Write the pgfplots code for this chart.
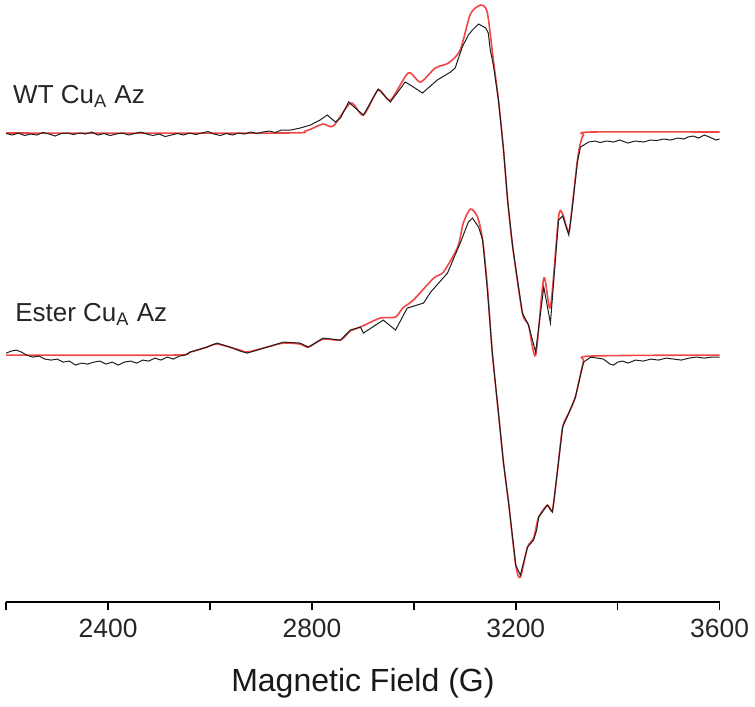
\documentclass[border=0pt]{standalone}
\usepackage{pgfplots}
\pgfplotsset{compat=1.18}
\usepackage{fontspec}
\setmainfont{Liberation Sans}
\definecolor{simred}{RGB}{240,70,70}
\definecolor{expblack}{RGB}{30,30,30}
\begin{document}
\begin{tikzpicture}
\begin{axis}[
  scale only axis,
  width=356.6pt, height=301pt,
  xmin=2200, xmax=3600, ymin=0, ymax=602,
  clip=false,
  axis x line*=bottom,
  axis y line=none,
  axis line style={line width=1pt, black},
  xtick={2200,2400,...,3600},
  xticklabels={,2400,,2800,,3200,,3600},
  tick align=outside,
  major tick length=4pt,
  tick style={line width=0.8pt, black},
  /pgf/number format/assume math mode=true,
  ticklabel style={font=\fontsize{13.2pt}{15pt}\selectfont, text=black!85, yshift=-1pt},
  xlabel={Magnetic Field (G)},
  xlabel style={font=\fontsize{16pt}{19pt}\selectfont, text=black!90, yshift=-8.5pt},
]
\coordinate (sw) at (rel axis cs:0,0);
\coordinate (ne) at (rel axis cs:1,1);
% WT simulation
\addplot[simred, line width=0.8pt, smooth, tension=0.45] coordinates {
(2200,469) (2738,469) (2787,471) (2821,478) (2842,476) (2876,499) (2901,487)
(2930,512) (2954,502) (2989,529) (3013,520) (3042,534) (3068,539) (3091,552)
(3111,588) (3131,597) (3141,594) (3146,584) (3156,542) (3166,502) (3176,452)
(3184,402) (3194,355) (3213,289) (3225,277) (3239,247) (3255,324) (3268,295)
(3284,385) (3292,388) (3304,370) (3311,397) (3321,442) (3327,459) (3333,467)
(3347,470) (3600,470)
};
% WT experimental
\addplot[expblack, line width=0.5pt] coordinates {
(2200,468.5) (2212,467) (2224,469) (2236,466.5) (2248,468) (2260,467) (2272,469.5)
(2284,468) (2296,466) (2308,468.5) (2320,469) (2332,467.5) (2344,469) (2356,468)
(2368,470) (2380,467) (2392,468.5) (2404,466.5) (2416,468) (2428,469) (2440,467)
(2452,468.5) (2464,470) (2476,468) (2488,466.5) (2500,468) (2512,465.5) (2524,467)
(2536,468.5) (2548,467) (2560,469) (2572,467.5) (2584,469) (2596,470.5) (2608,468)
(2620,466.5) (2632,468.5) (2644,467) (2656,469) (2668,468) (2680,470) (2692,468.5)
(2704,470) (2716,471) (2728,469.5) (2740,472)
(2758,472) (2777,474) (2797,477) (2816,482) (2830,487) (2846,480) (2856,484)
(2872,500) (2885,494) (2901,487) (2930,513) (2954,500) (2983,520) (2993,517)
(3017,509) (3046,522) (3072,530) (3081,534) (3095,555) (3107,567) (3115,572)
(3127,578) (3141,574) (3146,569) (3150,552) (3156,537) (3166,502) (3176,452)
(3184,402) (3194,355) (3213,289) (3225,277) (3239,250) (3255,315) (3268,279)
(3284,382) (3292,386) (3304,367) (3311,394) (3321,440) (3327,455) (3343,460)
(3355,461) (3366,459.5) (3378,461) (3392,460) (3404,462) (3420,459) (3434,461)
(3451,460) (3464,462) (3477,461.5) (3490,463) (3504,462) (3518,464) (3530,463)
(3538,465) (3548,466) (3559,464) (3570,467) (3580,465) (3593,462) (3600,463)
};
% Ester simulation
\addplot[simred, line width=0.8pt, smooth, tension=0.45] coordinates {
(2200,247) (2526,247) (2561,250) (2594,255) (2614,258) (2659,252) (2673,250)
(2712,255) (2744,259) (2777,258) (2793,255) (2822,263) (2856,262) (2875,271)
(2895,275) (2934,284) (2964,285) (2978,294) (2999,302) (3039,324) (3058,330)
(3086,355) (3097,379) (3111,393) (3125,385) (3135,362) (3144,317) (3154,249)
(3166,189) (3176,139) (3186,99) (3200,37) (3209,25) (3223,55) (3235,64)
(3245,85) (3262,97) (3272,92) (3282,132) (3292,175) (3304,189) (3317,205)
(3333,240) (3347,246) (3600,247)
};
% Ester experimental
\addplot[expblack, line width=0.5pt] coordinates {
(2200,249) (2210,251) (2220,252) (2230,250) (2240,247) (2252,245) (2264,246)
(2276,243) (2288,242) (2300,243) (2312,240) (2324,241) (2336,237) (2348,239)
(2360,238) (2372,240) (2384,241) (2396,238) (2408,240) (2420,237) (2432,240)
(2444,241) (2456,239) (2468,242) (2480,241) (2492,244) (2504,242) (2516,245)
(2528,243) (2540,246) (2552,247) (2561,250)
(2594,255) (2614,259) (2639,255) (2659,251) (2673,249) (2712,255) (2744,260)
(2777,259) (2793,255) (2822,264) (2856,262) (2875,272) (2895,275) (2901,269)
(2940,282) (2964,272) (2987,294) (3019,299) (3033,310) (3066,329) (3091,359)
(3107,380) (3115,384) (3127,375) (3135,362) (3144,314) (3154,249) (3166,189)
(3176,139) (3186,99) (3200,37) (3209,27) (3223,55) (3235,62) (3241,72)
(3245,85) (3262,97) (3272,90) (3282,132) (3292,175) (3304,189) (3317,205)
(3333,240) (3347,245) (3360,244) (3372,243) (3385,238) (3392,237) (3400,240)
(3410,241) (3420,239) (3435,242) (3450,241) (3465,243) (3480,242) (3495,244)
(3510,243) (3525,242) (3540,244) (3555,245) (3570,244) (3585,245) (3600,245)
};
\node[anchor=base west, font=\fontsize{13pt}{15pt}\selectfont, text=black!85, inner sep=0pt]
  at (axis cs:2213,499) {WT Cu\textsubscript{A} Az};
\node[anchor=base west, font=\fontsize{13pt}{15pt}\selectfont, text=black!85, inner sep=0pt]
  at (axis cs:2217,281) {Ester Cu\textsubscript{A} Az};
\end{axis}
\path (sw) ++(-3.1pt,-52pt) coordinate (bl);
\path (ne) ++(17.7pt,0pt) coordinate (tr);
\pgfresetboundingbox
\path (bl) rectangle (tr);
\end{tikzpicture}
\end{document}
